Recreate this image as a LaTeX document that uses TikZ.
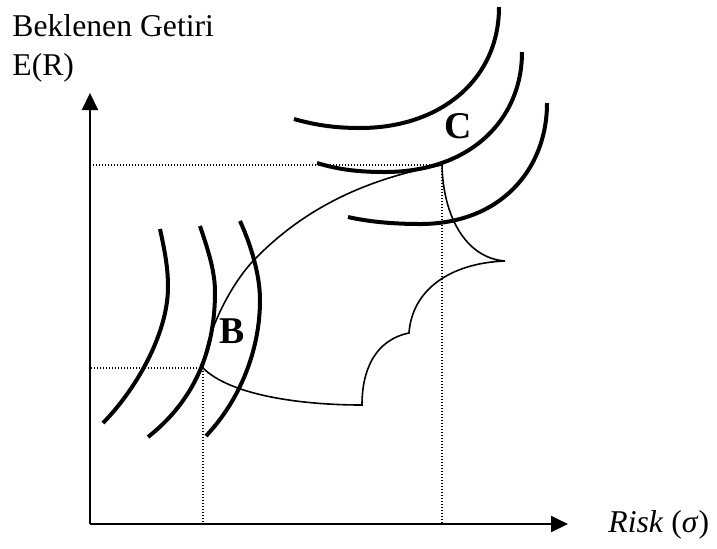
\documentclass[tikz,border=0pt]{standalone}
\usepackage{fontspec}
\setmainfont{Liberation Serif}
\usetikzlibrary{arrows.meta,positioning}

\begin{document}
\begin{tikzpicture}[x=0.5pt,y=-0.5pt,
  axis/.style={-{Triangle[length=8.5pt,width=8pt]},line width=1pt},
  indiff/.style={line width=2pt},
  frontier/.style={line width=0.8pt},
  guide/.style={line width=0.7pt,dash pattern=on 0.6pt off 0.9pt},
  txt/.style={inner sep=0pt,font=\fontsize{15.85pt}{19pt}\selectfont},
  lbl/.style={inner sep=0pt,font=\fontsize{18.9pt}{22pt}\selectfont\bfseries}
]
\useasboundingbox (0,0) rectangle (717,548);

% axes
\coordinate (O) at (90,524);
\coordinate (ytop) at (90,93);
\coordinate (xend) at (568,524);
\draw[axis] (O) -- (ytop);
\draw[axis] (O) -- (xend);
\node[txt,anchor=base west] (ytitle) at (12,36) {Beklenen Getiri};
\node[txt,anchor=base west] (yunit) at (12,75) {E(R)};
\node[txt,anchor=base west] (xtitle) at (608,532) {\textit{Risk}~(\textit{σ})};

% tangency points
\coordinate (Bpt) at (203,368);
\coordinate (Cpt) at (442,165);
\draw[guide] (Bpt) -- (Bpt -| O);
\draw[guide] (Bpt) -- (Bpt |- O);
\draw[guide] (Cpt) -- (Cpt -| O);
\draw[guide] (Cpt) -- (Cpt |- O);

% opportunity set
\draw[frontier] (Bpt) .. controls (206,335) and (228,288) .. (253,261)
  .. controls (300,212) and (360,180) .. (Cpt)
  .. controls (443,215) and (465,258) .. (505,261)
  .. controls (450,263) and (412,290) .. (409,333)
  .. controls (375,340) and (362,370) .. (362,405)
  .. controls (300,405) and (230,395) .. (Bpt) -- cycle;

% indifference curves at B
\draw[indiff] (160,229) .. controls (165,252) and (168,268) .. (168,287)
  .. controls (168,330) and (140,385) .. (103,423);
\draw[indiff] (200,226) .. controls (207,247) and (215,270) .. (215,292)
  .. controls (215,350) and (195,400) .. (148,437);
\draw[indiff] (240,221) .. controls (251,245) and (260,275) .. (260,300)
  .. controls (260,350) and (240,400) .. (206,436);

% indifference curves at C
\draw[indiff] (294,119) .. controls (315,125) and (335,128) .. (360,128)
  .. controls (440,128) and (499,80) .. (499,7);
\draw[indiff] (317,163) .. controls (340,170) and (360,172) .. (385,172)
  .. controls (470,172) and (522,120) .. (522,52);
\draw[indiff] (348,217) .. controls (370,222) and (395,224) .. (420,224)
  .. controls (500,224) and (547,170) .. (547,103);

\node[lbl] (B) at (232,331) {B};
\node[lbl] (C) at (458,126) {C};
\end{tikzpicture}
\end{document}
